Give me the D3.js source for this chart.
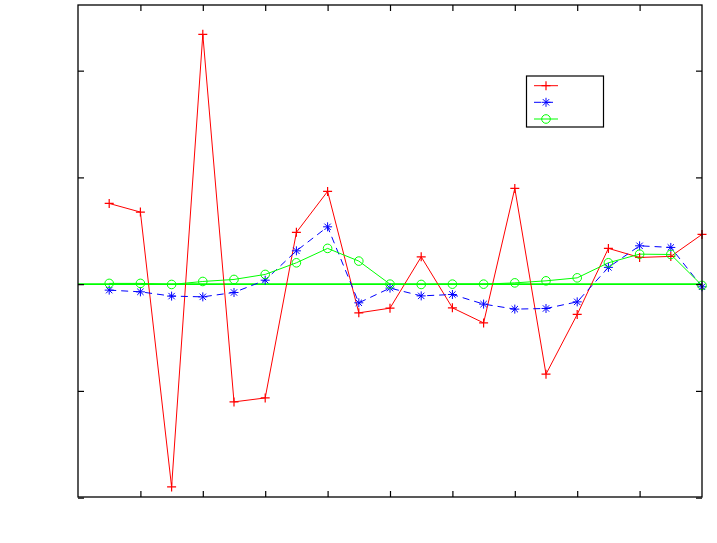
<!DOCTYPE html>
<html><head><meta charset="utf-8">
<script src="https://cdn.jsdelivr.net/npm/d3@7"></script>
<style>body{margin:0;background:#fff}svg{display:block}</style>
</head><body>
<svg id="c" width="717" height="543"></svg>
<script>
const xIndex = d3.range(1, 21);
const redValues = [0.756,0.675,-1.900,2.340,-1.103,-1.066,0.485,0.869,-0.269,-0.225,0.256,-0.222,-0.363,0.897,-0.843,-0.284,0.335,0.250,0.260,0.466];
const blueValues = [-0.056,-0.072,-0.112,-0.119,-0.078,0.037,0.312,0.537,-0.175,-0.037,-0.110,-0.097,-0.187,-0.234,-0.228,-0.166,0.157,0.359,0.344,-0.025];
const greenValues = [0.007,0.007,-0.003,0.025,0.044,0.091,0.200,0.335,0.216,0.0,-0.003,0.0,0.0,0.012,0.031,0.059,0.200,0.281,0.278,-0.012];
const xTicks = [2,4,6,8,10,12,14,16,18];
const yTicks = [-2,-1,0,1,2];

const svg = d3.select("#c");
const L = 78, R = 702, T = 5, B = 497;
const x = d3.scaleLinear().domain([0,20]).range([L,R]);
const y = d3.scaleLinear().domain([-1.994,2.615]).range([B,T]);
const tl = 6;

// zero line
svg.append("line").attr("x1",L).attr("x2",R).attr("y1",y(0)).attr("y2",y(0))
  .attr("stroke","#00ff00").attr("stroke-width",1.6);

const line = d3.line().x((d,i)=>x(xIndex[i])).y(d=>y(d));
const g = svg.append("g");

function plus(sel, cx, cy, col){
  sel.append("path").attr("d",`M${cx-4.5},${cy}H${cx+4.5}M${cx},${cy-4.5}V${cy+4.5}`).attr("stroke",col).attr("stroke-width",1.2).attr("fill","none");
}
function star(sel, cx, cy, col){
  const a=4.5, b=3.2;
  sel.append("path").attr("d",`M${cx-a},${cy}H${cx+a}M${cx},${cy-a}V${cy+a}M${cx-b},${cy-b}L${cx+b},${cy+b}M${cx-b},${cy+b}L${cx+b},${cy-b}`).attr("stroke",col).attr("stroke-width",1).attr("fill","none");
}
function circ(sel, cx, cy, col){
  sel.append("circle").attr("cx",cx).attr("cy",cy).attr("r",4.3).attr("stroke",col).attr("stroke-width",1).attr("fill","none");
}

g.append("path").datum(redValues).attr("d",line).attr("fill","none").attr("stroke","#ff0000").attr("stroke-width",1);
g.append("path").datum(blueValues).attr("d",line).attr("fill","none").attr("stroke","#0000ff").attr("stroke-width",1).attr("stroke-dasharray","7,5");
g.append("path").datum(greenValues).attr("d",line).attr("fill","none").attr("stroke","#00ff00").attr("stroke-width",1);

redValues.forEach((v,i)=>plus(g, x(xIndex[i]), y(v), "#ff0000"));
blueValues.forEach((v,i)=>star(g, x(xIndex[i]), y(v), "#0000ff"));
greenValues.forEach((v,i)=>circ(g, x(xIndex[i]), y(v), "#00ff00"));

// axes box with inward ticks
const ax = svg.append("g").attr("stroke","#000").attr("fill","none");
ax.append("rect").attr("x",L).attr("y",T).attr("width",R-L).attr("height",B-T).attr("stroke-width",1.3);
const xb = d3.axisBottom(x).tickValues(xTicks).tickSize(-tl).tickFormat("");
const xt = d3.axisTop(x).tickValues(xTicks).tickSize(-tl).tickFormat("");
const yl = d3.axisLeft(y).tickValues(yTicks).tickSize(-tl).tickFormat("");
const yr = d3.axisRight(y).tickValues(yTicks).tickSize(-tl).tickFormat("");
[[xb,`translate(0,${B})`],[xt,`translate(0,${T})`],[yl,`translate(${L},0)`],[yr,`translate(${R},0)`]].forEach(([a,t])=>{
  const s = svg.append("g").attr("transform",t).call(a);
  s.select(".domain").remove();
  s.selectAll(".tick line").attr("stroke","#000").attr("stroke-width",1.2);
});

// legend
const lg = svg.append("g");
lg.append("rect").attr("x",526.5).attr("y",76).attr("width",77).attr("height",51).attr("fill","#fff").attr("stroke","#000").attr("stroke-width",1.2);
const entries = [["#ff0000",plus,null,85.7],["#0000ff",star,"7,5",102.3],["#00ff00",circ,null,119]];
entries.forEach(([c,m,dash,yy])=>{
  lg.append("line").attr("x1",534).attr("x2",558).attr("y1",yy).attr("y2",yy).attr("stroke",c).attr("stroke-width",1).attr("stroke-dasharray",dash);
  m(lg, 546, yy, c);
});
</script>
</body></html>
